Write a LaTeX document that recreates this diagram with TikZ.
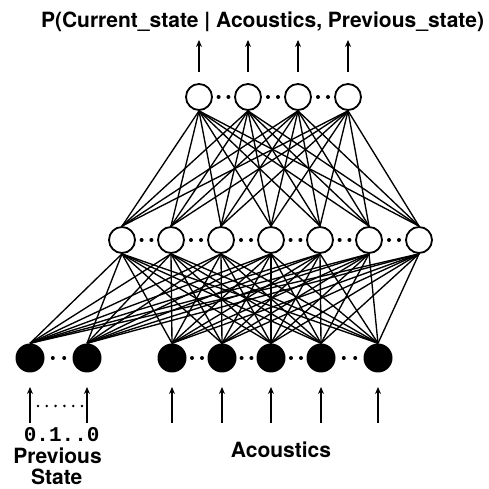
\documentclass[tikz,border=0pt]{standalone}
\usepackage{fontspec}
\setmainfont{TeX Gyre Heros}
\newfontfamily\bitsfont{Liberation Mono}
\usetikzlibrary{arrows.meta}
\usetikzlibrary{calc}
\tikzset{unit/.style = {circle, draw, line width=1.8pt, fill=white, inner sep=0, minimum size=26}}
\tikzset{inunit/.style = {circle, fill, inner sep=0, minimum size=29}}
\tikzset{link/.style = {line width=1.35pt}}
\tikzset{arr/.style = {line width=1.6pt, -{Stealth[length=7pt, width=6pt]}}}
\tikzset{bitdots/.style = {line width=2.8pt, line cap=round, dash pattern=on 0pt off 8.8pt}}
\tikzset{lbl/.style = {font=\fontsize{21}{20}\selectfont\bfseries, anchor=base, inner sep=0}}
\newcommand{\gapdots}[2]{%
  \fill ($(#1)!0.4!(#2)$) circle [radius=2pt];
  \fill ($(#1)!0.6!(#2)$) circle [radius=2pt];}

\begin{document}
\begin{tikzpicture}[x=1pt, y=1pt]
    \useasboundingbox (0, 0) rectangle (488, 489);

    % output layer
    \foreach \i/\x in {1/199, 2/248, 3/298, 4/348}
      \node [unit] (o\i) at (\x, 392) {};

    % hidden layer
    \foreach \i/\x in {1/122, 2/171, 3/221, 4/271, 5/320, 6/369, 7/419}
      \node [unit] (h\i) at (\x, 249) {};

    % input layer
    \node [inunit] (p1) at (30, 131) {};
    \node [inunit] (p2) at (87, 131) {};
    \foreach \i/\x in {1/172, 2/222, 3/271, 4/321, 5/378}
      \node [inunit] (a\i) at (\x, 131) {};

    \foreach \o in {1, ..., 4}
      \foreach \h in {1, ..., 7}
        \draw [link] (o\o.south) -- (h\h.north);
    \foreach \h in {1, ..., 7}
      \foreach \n in {p1, p2, a1, a2, a3, a4, a5}
        \draw [link] (h\h.south) -- (\n.north);

    \foreach \a/\b in {o1/o2, o2/o3, o3/o4, h1/h2, h2/h3, h3/h4, h4/h5, h5/h6, h6/h7,
                       p1/p2, a1/a2, a2/a3, a3/a4, a4/a5}
      {\gapdots{\a}{\b}}

    \foreach \n in {o1, o2, o3, o4}
      \draw [arr] ([yshift=25]\n.center) -- ([yshift=57]\n.center);
    \foreach \n in {p1, p2, a1, a2, a3, a4, a5}
      \draw [arr] ([yshift=-65]\n.center) -- ([yshift=-29]\n.center);
    \draw [bitdots] ([shift={(8, -48)}]p1.center) -- ([shift={(-5, -48)}]p2.center);

    \node [lbl] (title) at (262.5, 461) {P(Current\_state | Acoustics, Previous\_state)};
    \node [lbl, font=\fontsize{21}{20}\selectfont\bitsfont\bfseries] (bits) at (61.7, 47) {0.1..0};
    \node [lbl] (prev) at (57.5, 25) {Previous};
    \node [lbl] (state) at (56.7, 5) {State};
    \node [lbl] (acou) at (281, 31) {Acoustics};
\end{tikzpicture}
\end{document}
